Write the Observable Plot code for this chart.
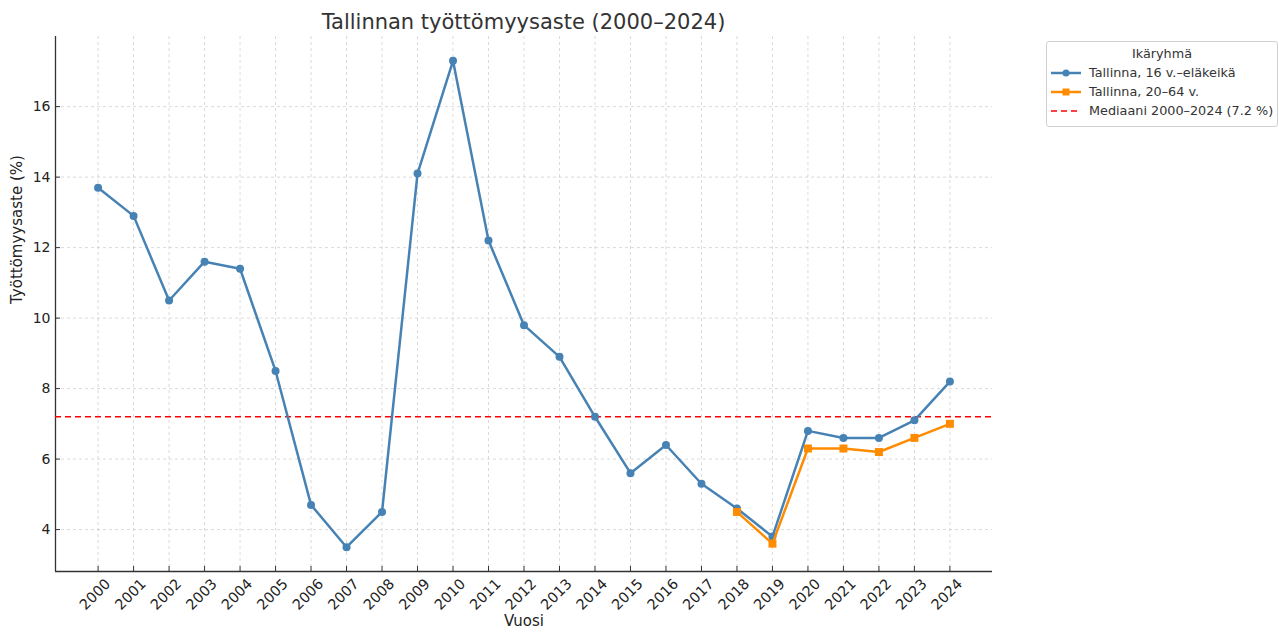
<!DOCTYPE html>
<html>
<head>
<meta charset="utf-8">
<script src="https://cdn.jsdelivr.net/npm/d3@7"></script>
<script src="https://cdn.jsdelivr.net/npm/@observablehq/plot@0.6"></script>
<style>
  body { margin: 0; background: #fff; font-family: "DejaVu Sans", sans-serif; }
  #wrap { position: relative; width: 1279px; height: 633px; overflow: hidden; }
  #title { position: absolute; left: 55px; width: 937px; top: 9px; text-align: center; font-size: 21px; color: #333; line-height: 26px; }
  #legend { position: absolute; left: 1046px; top: 41px; width: 232px; border: 1px solid #d0d0d0; border-radius: 3px; background: #fff; font-size: 12.8px; color: #333; padding: 4px 0 6px 0; box-sizing: border-box; }
  #legend .t { text-align: center; margin-bottom: 2px; }
  #legend .row { display: flex; align-items: center; height: 19px; padding-left: 4px; }
  #legend svg { margin-right: 8px; }
</style>
</head>
<body>
<div id="wrap">
  <div id="chart"></div>
  <div id="title">Tallinnan työttömyysaste (2000–2024)</div>
  <div id="legend"></div>
</div>
<script>
const years = [2000,2001,2002,2003,2004,2005,2006,2007,2008,2009,2010,2011,2012,2013,2014,2015,2016,2017,2018,2019,2020,2021,2022,2023,2024];
const rate16 = [13.7,12.9,10.5,11.6,11.4,8.5,4.7,3.5,4.5,14.1,17.3,12.2,9.8,8.9,7.2,5.6,6.4,5.3,4.6,3.8,6.8,6.6,6.6,7.1,8.2];
const years2064 = [2018,2019,2020,2021,2022,2023,2024];
const rate2064 = [4.5,3.6,6.3,6.3,6.2,6.6,7.0];
const median = 7.2;
const yTicks = [4,6,8,10,12,14,16];
const seriesNames = ["Tallinna, 16 v.–eläkeikä", "Tallinna, 20–64 v.", "Mediaani 2000–2024 (7.2 %)"];
const legendTitle = "Ikäryhmä";
const colors = ["#4682b4", "#ff8c00", "#ff0000"];

const d16 = years.map((y, i) => ({year: y, value: rate16[i]}));
const d2064 = years2064.map((y, i) => ({year: y, value: rate2064[i]}));

const xDom = [1998.8, 2025.2];
const yDom = [2.81, 17.99];

const chart = Plot.plot({
  width: 1279,
  height: 633,
  marginLeft: 55,
  marginRight: 287,
  marginTop: 36,
  marginBottom: 62,
  style: {fontFamily: "DejaVu Sans, sans-serif", fontSize: "14px", color: "#222", background: "#fff"},
  x: {domain: xDom, ticks: years, tickFormat: d => String(d), label: null},
  y: {domain: yDom, ticks: yTicks, label: null},
  marks: [
    Plot.ruleX(years, {stroke: "#b0b0b0", strokeOpacity: 0.6, strokeDasharray: "3,3", strokeWidth: 0.8}),
    Plot.ruleY(yTicks, {stroke: "#b0b0b0", strokeOpacity: 0.6, strokeDasharray: "3,3", strokeWidth: 0.8}),
    // inward tick marks (no labels)
    Plot.axisX({ticks: years, tickFormat: () => "", tickSize: -5, label: null, stroke: "#333"}),
    Plot.axisY({ticks: yTicks, tickFormat: () => "", tickSize: -5, label: null, stroke: "#333"}),
    // labels
    Plot.axisX({ticks: years, tickFormat: d => String(d), tickRotate: -45, tickSize: 0, tickPadding: 7, fontSize: 14.4, label: null, dx: 10, dy: 3}),
    Plot.axisY({ticks: yTicks, tickSize: 0, tickPadding: 5, fontSize: 14, label: null}),
    Plot.ruleX([xDom[0]], {stroke: "#333", strokeWidth: 1.3}),
    Plot.ruleY([yDom[0]], {stroke: "#333", strokeWidth: 1.3}),
    Plot.ruleY([median], {stroke: colors[2], strokeWidth: 1.5, strokeDasharray: "6,4"}),
    Plot.line(d16, {x: "year", y: "value", stroke: colors[0], strokeWidth: 2.5}),
    Plot.dot(d16, {x: "year", y: "value", fill: colors[0], r: 4}),
    Plot.line(d2064, {x: "year", y: "value", stroke: colors[1], strokeWidth: 2.5}),
    Plot.dot(d2064, {x: "year", y: "value", fill: colors[1], symbol: "square", r: 4.5}),
    Plot.text(["Vuosi"], {frameAnchor: "bottom", dy: 54, fontSize: 15, fill: "#222"}),
    Plot.text(["Työttömyysaste (%)"], {frameAnchor: "left", dx: -38, rotate: -90, fontSize: 15, fill: "#222"})
  ]
});
document.getElementById("chart").appendChild(chart);

// Legend
const leg = document.getElementById("legend");
const t = document.createElement("div");
t.className = "t"; t.textContent = legendTitle; leg.appendChild(t);
seriesNames.forEach((name, i) => {
  const row = document.createElement("div");
  row.className = "row";
  let icon;
  if (i === 0) icon = `<svg width="30" height="10"><line x1="0" y1="5" x2="30" y2="5" stroke="${colors[0]}" stroke-width="2.5"/><circle cx="15" cy="5" r="3.5" fill="${colors[0]}"/></svg>`;
  else if (i === 1) icon = `<svg width="30" height="10"><line x1="0" y1="5" x2="30" y2="5" stroke="${colors[1]}" stroke-width="2.5"/><rect x="11.5" y="1.5" width="7" height="7" fill="${colors[1]}"/></svg>`;
  else icon = `<svg width="30" height="10"><line x1="0" y1="5" x2="30" y2="5" stroke="${colors[2]}" stroke-width="1.5" stroke-dasharray="6,4"/></svg>`;
  row.innerHTML = icon + `<span>${name}</span>`;
  leg.appendChild(row);
});
</script>
</body>
</html>
